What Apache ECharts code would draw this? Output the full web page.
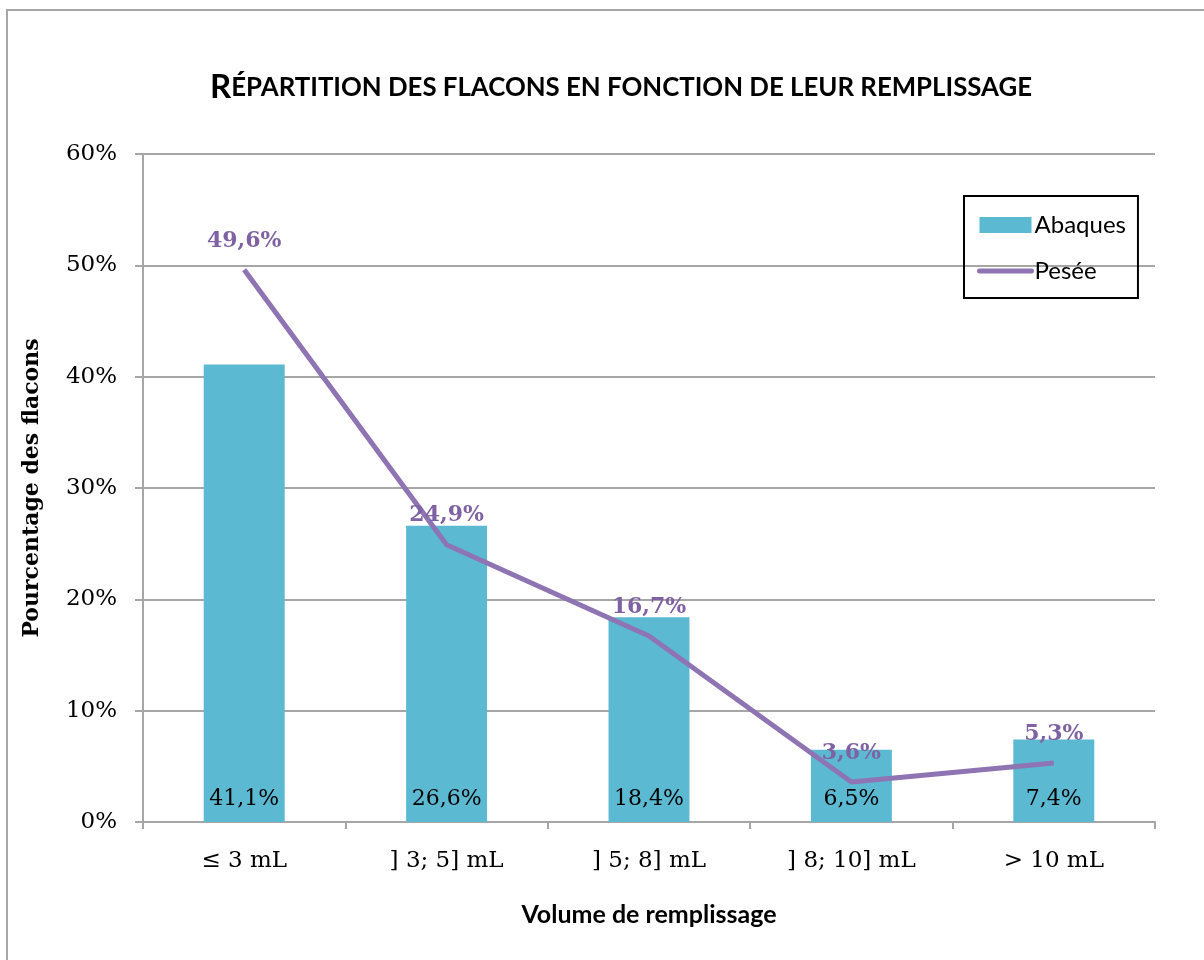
<!DOCTYPE html>
<html>
<head>
<meta charset="utf-8">
<script src="https://cdn.jsdelivr.net/npm/echarts@6/dist/echarts.min.js"></script>
<style>
html,body{margin:0;padding:0;background:#fff;}
#chart{width:1204px;height:960px;}
</style>
</head>
<body>
<div id="chart"></div>
<script>
var categories = ['≤ 3 mL', '] 3; 5] mL', '] 5; 8] mL', '] 8; 10] mL', '> 10 mL'];
var abaques = [41.1, 26.6, 18.4, 6.5, 7.4];
var pesee = [49.6, 24.9, 16.7, 3.6, 5.3];
var seriesNames = ['Abaques', 'Pesée'];

function pct(v) { return String(v.toFixed(1)).replace('.', ',') + '%'; }

var chart = echarts.init(document.getElementById('chart'));
var gridColor = '#A6A6A6';
var lineColor = '#8E74B3';
var serif = '"DejaVu Serif", "Liberation Serif", serif';
var sans = 'Lato, "Open Sans", sans-serif';

chart.setOption({
  animation: false,
  backgroundColor: '#fff',
  graphic: [{
    type: 'rect',
    shape: { x: 7, y: 10, width: 1300, height: 1000 },
    style: { fill: 'none', stroke: '#A6A6A6', lineWidth: 2 },
    z: -10
  }],
  title: {
    text: '{a|R}{b|ÉPARTITION DES FLACONS EN FONCTION DE LEUR REMPLISSAGE}',
    left: 616,
    top: 66,
    textAlign: 'center',
    textStyle: {
      rich: {
        a: { fontFamily: sans, fontWeight: 'bold', fontSize: 33, color: '#000' },
        b: { fontFamily: sans, fontWeight: 'bold', fontSize: 25.8, color: '#000' }
      }
    }
  },
  legend: {
    orient: 'vertical',
    left: 964,
    top: 196,
    padding: [17, 12, 15, 13],
    itemGap: 22,
    itemWidth: 52,
    itemHeight: 16,
    borderColor: '#000',
    borderWidth: 2,
    textStyle: { fontFamily: sans, fontSize: 24, color: '#000', padding: [0, 0, 0, -2] },
    data: [
      { name: seriesNames[0], icon: 'rect' },
      { name: seriesNames[1], itemStyle: { opacity: 0 }, lineStyle: { width: 5, cap: 'round', color: lineColor } }
    ]
  },
  grid: { left: 143, right: 49, top: 154, bottom: 138 },
  xAxis: {
    type: 'category',
    data: categories,
    boundaryGap: true,
    name: 'Volume de remplissage',
    nameLocation: 'middle',
    nameGap: 80,
    nameTextStyle: { fontFamily: sans, fontWeight: 'bold', fontSize: 25, color: '#000' },
    axisLine: { lineStyle: { color: gridColor, width: 2 } },
    axisTick: { show: true, alignWithLabel: false, length: 7, lineStyle: { color: gridColor, width: 2 } },
    axisLabel: { margin: 28, fontFamily: serif, fontSize: 23, color: '#000' }
  },
  yAxis: {
    type: 'value',
    min: 0,
    max: 60,
    interval: 10,
    name: 'Pourcentage des flacons',
    nameLocation: 'middle',
    nameGap: 100,
    nameTextStyle: { fontFamily: serif, fontWeight: 'bold', fontSize: 22, color: '#000' },
    axisLine: { show: true, lineStyle: { color: gridColor, width: 2 } },
    axisTick: { show: true, length: 8, lineStyle: { color: gridColor, width: 2 } },
    axisLabel: { margin: 26, fontFamily: serif, fontSize: 23, color: '#000', formatter: function (v) { return v + '%'; } },
    splitLine: { show: true, lineStyle: { color: gridColor, width: 2 } }
  },
  series: [{
    name: seriesNames[0],
    type: 'bar',
    data: abaques,
    barWidth: '40%',
    itemStyle: { color: '#5BB9D1' },
    label: {
      show: true,
      position: 'insideBottom',
      distance: 12,
      fontFamily: serif,
      fontSize: 22,
      color: '#000',
      formatter: function (p) { return pct(p.value); }
    },
    z: 2
  }, {
    name: seriesNames[1],
    type: 'line',
    data: pesee,
    symbol: 'none',
    lineStyle: { color: lineColor, width: 5 },
    itemStyle: { color: lineColor },
    z: 3
  }, {
    name: seriesNames[1] + ' labels',
    type: 'scatter',
    data: pesee,
    symbolSize: 0,
    itemStyle: { color: 'rgba(0,0,0,0)', opacity: 1 },
    label: {
      show: true,
      position: 'top',
      distance: 18,
      fontFamily: serif,
      fontWeight: 'bold',
      fontSize: 22,
      color: '#7E62A3',
      opacity: 1
    },
    z: 4
  }]
});
chart.setOption({ series: [{}, {}, { label: { formatter: function (p) { return pct(p.value); } } }] });
</script>
</body>
</html>
